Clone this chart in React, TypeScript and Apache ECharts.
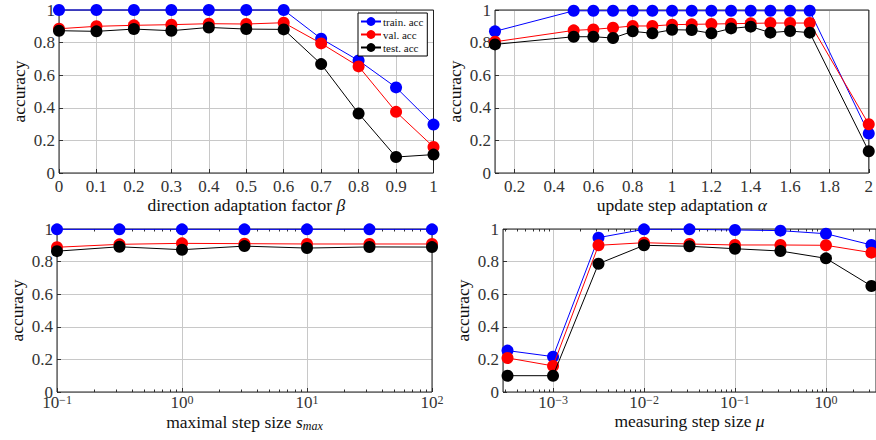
import React, { useEffect, useRef } from "react";
import * as echarts from "echarts";

// ---- data ----
const seriesNames = ["train. acc", "val. acc", "test. acc"];
const seriesColors = ["#0000ff", "#ff0000", "#000000"];

// panel 1: direction adaptation factor beta
const betaX = [0, 0.1, 0.2, 0.3, 0.4, 0.5, 0.6, 0.7, 0.8, 0.9, 1];
const betaTrain = [1, 1, 1, 1, 1, 1, 1, 0.824, 0.69, 0.525, 0.297];
const betaVal = [0.885, 0.9, 0.906, 0.91, 0.916, 0.914, 0.922, 0.795, 0.654, 0.375, 0.16];
const betaTest = [0.873, 0.869, 0.883, 0.873, 0.893, 0.883, 0.881, 0.668, 0.365, 0.098, 0.113];

// panel 2: update step adaptation alpha
const alphaX = [0.1, 0.5, 0.6, 0.7, 0.8, 0.9, 1.0, 1.1, 1.2, 1.3, 1.4, 1.5, 1.6, 1.7, 2.0];
const alphaTrain = [0.869, 0.995, 0.995, 0.995, 0.995, 0.995, 0.995, 0.995, 0.995, 0.995, 0.995, 0.995, 0.995, 0.995, 0.242];
const alphaVal = [0.805, 0.875, 0.881, 0.891, 0.902, 0.902, 0.91, 0.912, 0.914, 0.916, 0.918, 0.92, 0.92, 0.92, 0.299];
const alphaTest = [0.789, 0.836, 0.836, 0.828, 0.869, 0.857, 0.879, 0.877, 0.857, 0.887, 0.898, 0.861, 0.871, 0.861, 0.133];

// panel 3: maximal step size s_max (log)
const smaxX = [0.1, 0.316, 1, 3.16, 10, 31.6, 100];
const smaxTrain = [0.998, 0.998, 0.998, 0.998, 0.998, 0.998, 0.998];
const smaxVal = [0.888, 0.906, 0.912, 0.91, 0.908, 0.908, 0.908];
const smaxTest = [0.864, 0.891, 0.873, 0.895, 0.883, 0.89, 0.889];

// panel 4: measuring step size mu (log)
const muX = [3.16e-4, 1e-3, 3.16e-3, 1e-2, 3.16e-2, 0.1, 0.316, 1, 3.16];
const muTrain = [0.254, 0.217, 0.947, 0.998, 0.998, 0.994, 0.99, 0.971, 0.902];
const muVal = [0.209, 0.16, 0.9, 0.916, 0.908, 0.902, 0.902, 0.9, 0.855];
const muTest = [0.1, 0.1, 0.787, 0.9, 0.894, 0.879, 0.865, 0.82, 0.65];

const yMin = 0;
const yMax = 1;
const yInterval = 0.2;

const FONT = "'Liberation Serif', 'Times New Roman', 'DejaVu Serif', serif";

function minorValues(minV: number, maxV: number): number[] {
  const out: number[] = [];
  for (let e = -6; e <= 3; e++) {
    for (let k = 2; k <= 9; k++) {
      const v = k * Math.pow(10, e);
      if (v > minV && v < maxV) out.push(v);
    }
  }
  return out;
}

function logLabel(v: number): string {
  const e = Math.round(Math.log10(v));
  return `{b|10}{s|${e < 0 ? "\u2212" : ""}${Math.abs(e)}}`;
}

export default function App() {
  const ref = useRef<HTMLDivElement>(null);

  useEffect(() => {
    document.body.style.margin = "0";
    if (!ref.current) return;
    const chart = echarts.init(ref.current, undefined, { renderer: "svg" });

    const grids = [
      { left: 59, top: 10, width: 374.5, height: 163 },
      { left: 495, top: 10, width: 376, height: 163 },
      { left: 57, top: 229, width: 375, height: 163 },
      { left: 503, top: 229, width: 378.5, height: 163 },
    ].map((g) => ({
      ...g,
      show: true,
      z: 1,
      borderColor: "#222",
      borderWidth: 1,
      backgroundColor: "transparent",
    }));

    const labelStyle = {
      color: "#333",
      fontFamily: FONT,
      fontSize: 17,
      margin: 5,
    };
    const richLog = {
      b: { fontFamily: FONT, fontSize: 17, color: "#333", lineHeight: 17 },
      s: { fontFamily: FONT, fontSize: 12, color: "#333", verticalAlign: "top", lineHeight: 10 },
    };
    const nameStyle = {
      color: "#111",
      fontFamily: FONT,
      fontSize: 17.5,
      rich: {
        i: { fontFamily: FONT, fontSize: 17.5, fontStyle: "italic", color: "#111" },
        sub: { fontFamily: FONT, fontSize: 12, fontStyle: "italic", color: "#111", padding: [8, 0, 0, 0] },
      },
    };
    const splitLine = { show: true, lineStyle: { color: "#c8c8c8", width: 1 } };
    const tick = { show: true, inside: true, length: 4, lineStyle: { color: "#333" } };

    const muMin = Math.pow(10, -3.55);
    const muMax = Math.pow(10, 0.55);

    const xAxis: any[] = [
      {
        gridIndex: 0,
        type: "value",
        min: 0,
        max: 1,
        interval: 0.1,
        name: "direction adaptation factor {i|β}",
        nameLocation: "middle",
        nameGap: 21,
        nameTextStyle: nameStyle,
        axisLine: { show: false },
        axisTick: tick,
        axisLabel: labelStyle,
        splitLine,
      },
      {
        gridIndex: 1,
        type: "value",
        min: 0.1,
        max: 2,
        splitNumber: 10,
        name: "update step adaptation {i|α}",
        nameLocation: "middle",
        nameGap: 21,
        nameTextStyle: nameStyle,
        axisLine: { show: false },
        axisTick: tick,
        axisLabel: { ...labelStyle, showMinLabel: false },
        splitLine,
      },
      {
        gridIndex: 2,
        type: "log",
        logBase: 10,
        min: 0.1,
        max: 100,
        name: "maximal step size {i|s}{sub|max}",
        nameLocation: "middle",
        nameGap: 20,
        nameTextStyle: nameStyle,
        axisLine: { show: false },
        axisTick: tick,
        axisLabel: { ...labelStyle, margin: 2, formatter: logLabel, rich: richLog },
        splitLine,
      },
      {
        gridIndex: 3,
        type: "log",
        logBase: 10,
        min: muMin,
        max: muMax,
        name: "measuring step size {i|μ}",
        nameLocation: "middle",
        nameGap: 20,
        nameTextStyle: nameStyle,
        axisLine: { show: false },
        axisTick: tick,
        axisLabel: {
          ...labelStyle,
          margin: 2,
          formatter: logLabel,
          rich: richLog,
          showMinLabel: false,
          showMaxLabel: false,
        },
        splitLine,
      },
    ];

    // minor ticks for the log axes (bottom and top, inside)
    const logPanels = [
      { grid: 2, min: 0.1, max: 100 },
      { grid: 3, min: muMin, max: muMax },
    ];
    logPanels.forEach((p) => {
      ["bottom", "top"].forEach((pos) => {
        xAxis.push({
          gridIndex: p.grid,
          type: "log",
          logBase: 10,
          min: p.min,
          max: p.max,
          position: pos,
          axisLine: { show: false },
          axisLabel: { show: false },
          splitLine: { show: false },
          axisTick: {
            show: true,
            inside: true,
            length: 2.5,
            customValues: minorValues(p.min, p.max),
            lineStyle: { color: "#333" },
          },
        });
      });
    });

    const yAxis = [0, 1, 2, 3].map((gi) => ({
      gridIndex: gi,
      type: "value",
      min: yMin,
      max: yMax,
      interval: yInterval,
      name: "accuracy",
      nameLocation: "middle",
      nameGap: 31,
      nameTextStyle: nameStyle,
      axisLine: { show: false },
      axisTick: tick,
      axisLabel: { ...labelStyle, margin: 4 },
      splitLine,
    }));

    const panels = [
      { x: betaX, ys: [betaTrain, betaVal, betaTest] },
      { x: alphaX, ys: [alphaTrain, alphaVal, alphaTest] },
      { x: smaxX, ys: [smaxTrain, smaxVal, smaxTest] },
      { x: muX, ys: [muTrain, muVal, muTest] },
    ];

    const series: any[] = [];
    panels.forEach((p, gi) => {
      p.ys.forEach((ys, si) => {
        series.push({
          type: "line",
          name: seriesNames[si],
          xAxisIndex: gi,
          yAxisIndex: gi,
          data: p.x.map((xv, i) => [xv, ys[i]]),
          symbol: "circle",
          symbolSize: 12,
          showSymbol: true,
          clip: false,
          itemStyle: { color: seriesColors[si] },
          lineStyle: { color: seriesColors[si], width: 1 },
          z: 2 + si,
        });
      });
    });

    chart.setOption({
      animation: false,
      backgroundColor: "#fff",
      textStyle: { fontFamily: FONT },
      grid: grids,
      xAxis,
      yAxis,
      legend: {
        data: seriesNames,
        orient: "vertical",
        left: 358,
        top: 13,
        itemWidth: 20,
        itemHeight: 11,
        itemGap: 2,
        padding: [3, 4, 3, 2],
        borderColor: "#000",
        borderWidth: 1,
        borderRadius: 0,
        backgroundColor: "#fff",
        textStyle: { fontFamily: FONT, fontSize: 11, color: "#111", padding: [0, 0, 0, -3] },
      },
      series,
    });

    return () => chart.dispose();
  }, []);

  return <div ref={ref} style={{ width: 876, height: 440 }} />;
}
